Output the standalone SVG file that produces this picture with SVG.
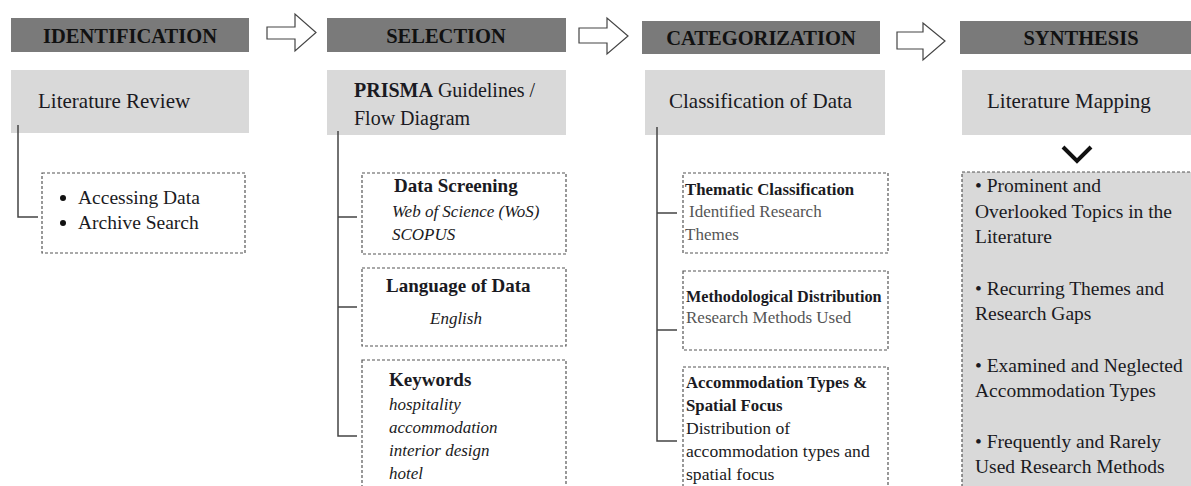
<svg xmlns="http://www.w3.org/2000/svg" width="1191" height="486" viewBox="0 0 1191 486">
<defs>
<style>
text{font-family:"Liberation Serif","DejaVu Serif",serif;fill:#1a1a22}
.hdr{fill:#7a7a7a}
.hdt{font-weight:bold;font-size:20.5px;text-anchor:middle;fill:#111}
.sub{fill:#d9d9d9}
.st{font-size:21px}
.dash{fill:#fff;stroke:#555;stroke-width:1.2;stroke-dasharray:3 2}
.dashg{fill:#d9d9d9;stroke:#555;stroke-width:1.2;stroke-dasharray:3 2}
.b{font-weight:bold;font-size:19px}
.bs{font-weight:bold;font-size:16.8px}
.i{font-style:italic;font-size:17px}
.n{font-size:19.5px}
.m{font-size:17.6px}
.g{font-size:17px;fill:#555}
.arr{fill:#fff;stroke:#444;stroke-width:1.2}
.con{fill:none;stroke:#444;stroke-width:1.5}
</style>
</defs>
<rect width="1191" height="486" fill="#fff"/>

<g id="identification">
<rect class="hdr" x="11" y="18" width="238" height="34"/>
<text class="hdt" x="130" y="43">IDENTIFICATION</text>
</g>
<g id="selection">
<rect class="hdr" x="327" y="18" width="239" height="34"/>
<text class="hdt" x="446" y="43">SELECTION</text>
</g>
<g id="categorization">
<rect class="hdr" x="642" y="21" width="238" height="33"/>
<text class="hdt" x="761" y="45">CATEGORIZATION</text>
</g>
<g id="synthesis">
<rect class="hdr" x="960" y="21" width="231" height="33"/>
<text class="hdt" x="1081" y="45">SYNTHESIS</text>
</g>

<g id="step-arrows">
<path class="arr" d="M267,27 H295 V14 L316,32.5 L295,51 V39 H267 Z"/>
<path class="arr" d="M579,28 H607 V18 L628,36 L607,54 V43 H579 Z"/>
<path class="arr" d="M897,32 H923 V23 L945,41 L923,60 V49 H897 Z"/>
</g>

<g id="literature-review">
<rect class="sub" x="11" y="70" width="238" height="63"/>
<text class="st" x="38" y="108">Literature Review</text>
</g>
<g id="prisma">
<rect class="sub" x="327" y="70" width="239" height="65"/>
<text class="st" x="354" y="97" style="font-size:20px"><tspan font-weight="bold">PRISMA</tspan> Guidelines /</text>
<text class="st" x="354" y="125" style="font-size:20px">Flow Diagram</text>
</g>
<g id="classification">
<rect class="sub" x="645" y="70" width="240" height="65"/>
<text class="st" x="669" y="108">Classification of Data</text>
</g>
<g id="literature-mapping">
<rect class="sub" x="962" y="70" width="229" height="65"/>
<text class="st" x="987" y="108">Literature Mapping</text>
</g>

<g id="connectors">
<path class="con" d="M18,125 V217 H38"/>
<path class="con" d="M338,131 V436 H357 M338,217 H357 M338,307 H357"/>
<path class="con" d="M657,127 V441 H677 M657,213 H677 M657,330 H677"/>
<path d="M1063,147 L1077,161 L1091,147" fill="none" stroke="#111" stroke-width="4"/>
</g>

<g id="access-box">
<rect class="dash" x="42" y="173" width="203" height="80"/>
<circle cx="63" cy="198" r="3" fill="#111"/>
<circle cx="63" cy="223" r="3" fill="#111"/>
<text class="n" x="78" y="204">Accessing Data</text>
<text class="n" x="78" y="229">Archive Search</text>
</g>

<g id="data-screening">
<rect class="dash" x="362" y="173" width="204" height="81"/>
<text class="b" x="394" y="192">Data Screening</text>
<text class="i" x="392" y="217">Web of Science (WoS)</text>
<text class="i" x="392" y="240">SCOPUS</text>
</g>
<g id="language">
<rect class="dash" x="362" y="268" width="204" height="78"/>
<text class="b" x="386" y="292">Language of Data</text>
<text class="i" x="430" y="324">English</text>
</g>
<g id="keywords">
<rect class="dash" x="362" y="360" width="204" height="130"/>
<text class="b" x="389" y="386">Keywords</text>
<text class="i" x="389" y="410">hospitality</text>
<text class="i" x="389" y="433">accommodation</text>
<text class="i" x="389" y="456">interior design</text>
<text class="i" x="389" y="479">hotel</text>
</g>

<g id="thematic">
<rect class="dash" x="683" y="173" width="205" height="80"/>
<text class="bs" x="685" y="195">Thematic Classification</text>
<text class="g" x="689" y="217">Identified Research</text>
<text class="g" x="685" y="240">Themes</text>
</g>
<g id="methodological">
<rect class="dash" x="683" y="271" width="205" height="79"/>
<text class="bs" x="686" y="302" style="font-size:16.2px">Methodological Distribution</text>
<text class="g" x="686" y="323">Research Methods Used</text>
</g>
<g id="accommodation">
<rect class="dash" x="683" y="367" width="205" height="125"/>
<text class="bs" x="686" y="388">Accommodation Types &amp;</text>
<text class="bs" x="686" y="411">Spatial Focus</text>
<text class="m" x="686" y="434">Distribution of</text>
<text class="m" x="686" y="457">accommodation types and</text>
<text class="m" x="686" y="480">spatial focus</text>
</g>

<g id="synthesis-list">
<rect class="dashg" x="962" y="172" width="235" height="320"/>
<text class="n" x="975" y="192">• Prominent and</text>
<text class="n" x="975" y="218">Overlooked Topics in the</text>
<text class="n" x="975" y="243">Literature</text>
<text class="n" x="975" y="295">• Recurring Themes and</text>
<text class="n" x="975" y="320">Research Gaps</text>
<text class="n" x="975" y="372">• Examined and Neglected</text>
<text class="n" x="975" y="397">Accommodation Types</text>
<text class="n" x="975" y="448">• Frequently and Rarely</text>
<text class="n" x="975" y="473">Used Research Methods</text>
</g>
</svg>
